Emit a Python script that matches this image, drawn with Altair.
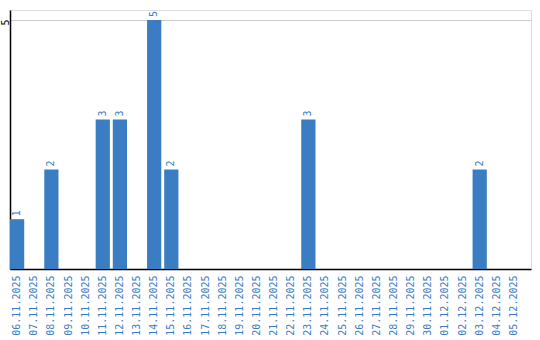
import altair as alt
import pandas as pd

dates = ["06.11.2025", "07.11.2025", "08.11.2025", "09.11.2025", "10.11.2025",
         "11.11.2025", "12.11.2025", "13.11.2025", "14.11.2025", "15.11.2025",
         "16.11.2025", "17.11.2025", "18.11.2025", "19.11.2025", "20.11.2025",
         "21.11.2025", "22.11.2025", "23.11.2025", "24.11.2025", "25.11.2025",
         "26.11.2025", "27.11.2025", "28.11.2025", "29.11.2025", "30.11.2025",
         "01.12.2025", "02.12.2025", "03.12.2025", "04.12.2025", "05.12.2025"]
counts = [1, 0, 2, 0, 0, 3, 3, 0, 5, 2, 0, 0, 0, 0, 0, 0, 0, 3, 0, 0,
          0, 0, 0, 0, 0, 0, 0, 2, 0, 0]

df = pd.DataFrame({"date": dates, "count": counts})
df["label"] = [str(c) if c > 0 else "" for c in counts]

FONT = "DejaVu Sans Mono"
BLUE = "#3a7dc2"

x = alt.X("date:N", sort=dates, title=None,
          scale=alt.Scale(paddingInner=0.17, paddingOuter=0.29, align=0),
          axis=alt.Axis(labelAngle=-90, labelColor=BLUE, labelFont=FONT, labelFontSize=10,
                        ticks=False, domainColor="#000", domainWidth=1.5, labelPadding=6,
                        labelAlign="right", labelBaseline="middle"))
y = alt.Y("count:Q", title=None, scale=alt.Scale(domain=[0, 5.2], nice=False),
          axis=alt.Axis(values=[5], labelAngle=-90, labelFont=FONT, labelFontSize=10,
                        labelColor="#000", ticks=False, grid=True, gridColor="#cccccc",
                        domainColor="#000", domainWidth=1.5, labelPadding=5,
                        labelAlign="center", labelBaseline="middle", labelOffset=2))

bars = alt.Chart(df).mark_bar(color=BLUE).encode(x=x, y=y)
text = alt.Chart(df).mark_text(angle=270, align="left", baseline="middle", dx=3,
                               font=FONT, fontSize=10, color=BLUE).encode(
    x=alt.X("date:N", sort=dates), y="count:Q", text="label:N")

chart = (bars + text).properties(
    width=521, height=259,
    autosize=alt.AutoSizeParams(type="none"),
    padding={"left": 10, "top": 10, "right": 9, "bottom": 71},
).configure_view(stroke=None).configure(background="white")

chart.save("out.html", embed_options={"renderer": "svg", "actions": False})
